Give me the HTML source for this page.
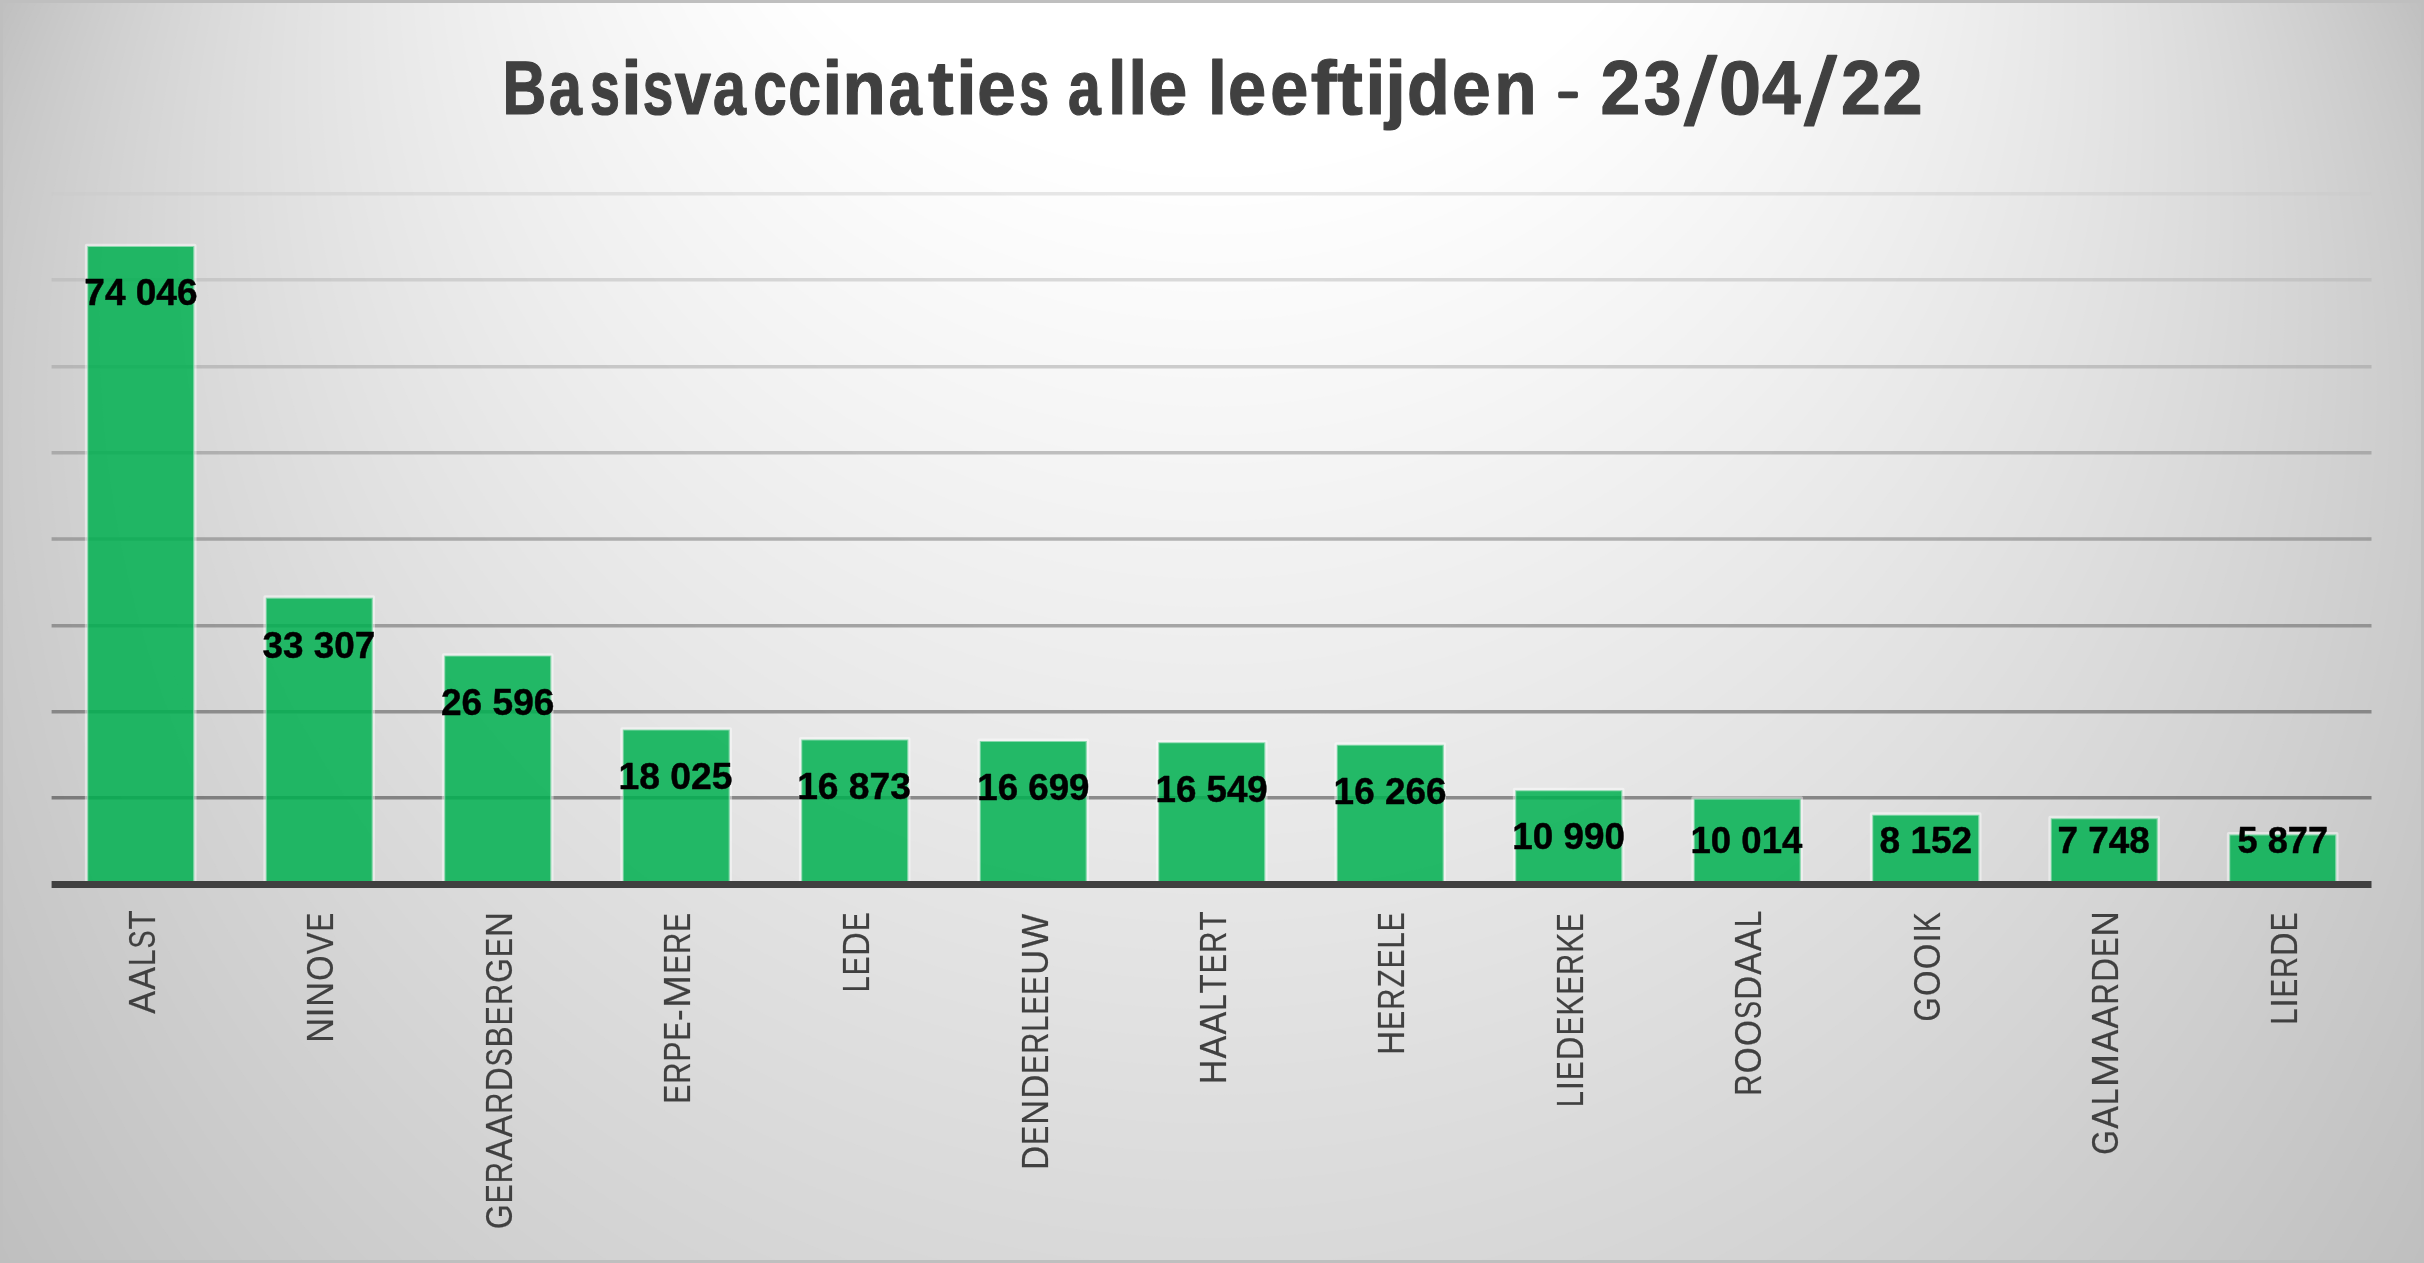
<!DOCTYPE html>
<html><head><meta charset="utf-8"><title>Basisvaccinaties alle leeftijden - 23/04/22</title>
<style>
html,body{margin:0;padding:0;background:#bfbfbf;}
body{width:2424px;height:1263px;overflow:hidden;}
svg{display:block;}
text{font-family:"Liberation Sans",sans-serif;}
#dl,#cl,#title{filter:opacity(0.999);will-change:opacity;}
.t{font-weight:bold;fill:#404040;font-size:75.4px;stroke:#404040;stroke-width:1.2px;stroke-linejoin:round;}
.d{font-weight:bold;fill:#000;font-size:36.2px;stroke:#000;stroke-width:0.45px;stroke-linejoin:round;}
.c{fill:#404040;font-size:37px;stroke:#404040;stroke-width:0.2px;}
</style></head><body>
<svg width="2424" height="1263" viewBox="0 0 2424 1263">
<rect x="0" y="0" width="2424" height="1263" fill="#bfbfbf"/>
<g id="bg">
<circle cx="1212.0" cy="623.68" r="1360.14" fill="rgb(192,192,192)"/>
<circle cx="1212.0" cy="608.03" r="1347.11" fill="rgb(193,193,193)"/>
<circle cx="1212.0" cy="592.38" r="1334.09" fill="rgb(194,194,194)"/>
<circle cx="1212.0" cy="576.73" r="1321.06" fill="rgb(195,195,195)"/>
<circle cx="1212.0" cy="561.08" r="1308.03" fill="rgb(196,196,196)"/>
<circle cx="1212.0" cy="545.43" r="1295.01" fill="rgb(197,197,197)"/>
<circle cx="1212.0" cy="529.78" r="1281.98" fill="rgb(198,198,198)"/>
<circle cx="1212.0" cy="514.13" r="1268.96" fill="rgb(199,199,199)"/>
<circle cx="1212.0" cy="498.48" r="1255.93" fill="rgb(200,200,200)"/>
<circle cx="1212.0" cy="482.83" r="1242.91" fill="rgb(201,201,201)"/>
<circle cx="1212.0" cy="467.18" r="1229.88" fill="rgb(202,202,202)"/>
<circle cx="1212.0" cy="451.53" r="1216.85" fill="rgb(203,203,203)"/>
<circle cx="1212.0" cy="435.88" r="1203.83" fill="rgb(204,204,204)"/>
<circle cx="1212.0" cy="420.23" r="1190.80" fill="rgb(205,205,205)"/>
<circle cx="1212.0" cy="404.58" r="1177.78" fill="rgb(206,206,206)"/>
<circle cx="1212.0" cy="388.93" r="1164.75" fill="rgb(207,207,207)"/>
<circle cx="1212.0" cy="373.29" r="1151.72" fill="rgb(208,208,208)"/>
<circle cx="1212.0" cy="357.64" r="1138.70" fill="rgb(209,209,209)"/>
<circle cx="1212.0" cy="341.99" r="1125.67" fill="rgb(210,210,210)"/>
<circle cx="1212.0" cy="326.34" r="1112.65" fill="rgb(211,211,211)"/>
<circle cx="1212.0" cy="310.69" r="1099.62" fill="rgb(212,212,212)"/>
<circle cx="1212.0" cy="295.04" r="1086.59" fill="rgb(213,213,213)"/>
<circle cx="1212.0" cy="279.39" r="1073.57" fill="rgb(214,214,214)"/>
<circle cx="1212.0" cy="263.74" r="1060.54" fill="rgb(215,215,215)"/>
<circle cx="1212.0" cy="248.09" r="1047.52" fill="rgb(216,216,216)"/>
<circle cx="1212.0" cy="232.44" r="1034.49" fill="rgb(217,217,217)"/>
<circle cx="1212.0" cy="216.79" r="1021.47" fill="rgb(218,218,218)"/>
<circle cx="1212.0" cy="201.14" r="1008.44" fill="rgb(219,219,219)"/>
<circle cx="1212.0" cy="185.49" r="995.41" fill="rgb(220,220,220)"/>
<circle cx="1212.0" cy="169.84" r="982.39" fill="rgb(221,221,221)"/>
<circle cx="1212.0" cy="154.19" r="969.36" fill="rgb(222,222,222)"/>
<circle cx="1212.0" cy="138.55" r="956.34" fill="rgb(223,223,223)"/>
<circle cx="1212.0" cy="122.90" r="943.31" fill="rgb(224,224,224)"/>
<circle cx="1212.0" cy="107.25" r="930.28" fill="rgb(225,225,225)"/>
<circle cx="1212.0" cy="91.60" r="917.26" fill="rgb(226,226,226)"/>
<circle cx="1212.0" cy="75.95" r="904.23" fill="rgb(227,227,227)"/>
<circle cx="1212.0" cy="60.30" r="891.21" fill="rgb(228,228,228)"/>
<circle cx="1212.0" cy="44.65" r="878.18" fill="rgb(229,229,229)"/>
<circle cx="1212.0" cy="29.00" r="865.15" fill="rgb(230,230,230)"/>
<circle cx="1212.0" cy="13.35" r="852.13" fill="rgb(231,231,231)"/>
<circle cx="1212.0" cy="-2.30" r="839.10" fill="rgb(232,232,232)"/>
<circle cx="1212.0" cy="-17.95" r="826.08" fill="rgb(233,233,233)"/>
<circle cx="1212.0" cy="-33.60" r="813.05" fill="rgb(234,234,234)"/>
<circle cx="1212.0" cy="-49.25" r="800.02" fill="rgb(235,235,235)"/>
<circle cx="1212.0" cy="-64.90" r="787.00" fill="rgb(236,236,236)"/>
<circle cx="1212.0" cy="-80.55" r="773.97" fill="rgb(237,237,237)"/>
<circle cx="1212.0" cy="-96.20" r="760.95" fill="rgb(238,238,238)"/>
<circle cx="1212.0" cy="-111.84" r="747.92" fill="rgb(239,239,239)"/>
<circle cx="1212.0" cy="-127.49" r="734.90" fill="rgb(240,240,240)"/>
<circle cx="1212.0" cy="-143.14" r="721.87" fill="rgb(241,241,241)"/>
<circle cx="1212.0" cy="-158.79" r="708.84" fill="rgb(242,242,242)"/>
<circle cx="1212.0" cy="-174.44" r="695.82" fill="rgb(243,243,243)"/>
<circle cx="1212.0" cy="-190.09" r="682.79" fill="rgb(244,244,244)"/>
<circle cx="1212.0" cy="-205.74" r="669.77" fill="rgb(245,245,245)"/>
<circle cx="1212.0" cy="-221.39" r="656.74" fill="rgb(246,246,246)"/>
<circle cx="1212.0" cy="-237.04" r="643.71" fill="rgb(247,247,247)"/>
<circle cx="1212.0" cy="-252.69" r="630.69" fill="rgb(248,248,248)"/>
<circle cx="1212.0" cy="-268.34" r="617.66" fill="rgb(249,249,249)"/>
<circle cx="1212.0" cy="-283.99" r="604.64" fill="rgb(250,250,250)"/>
<circle cx="1212.0" cy="-299.64" r="591.61" fill="rgb(251,251,251)"/>
<circle cx="1212.0" cy="-315.29" r="578.58" fill="rgb(252,252,252)"/>
<circle cx="1212.0" cy="-330.94" r="565.56" fill="rgb(253,253,253)"/>
<circle cx="1212.0" cy="-346.58" r="552.53" fill="rgb(254,254,254)"/>
<circle cx="1212.0" cy="-362.23" r="539.51" fill="rgb(255,255,255)"/>
</g>
<path d="M0 0H2424V1263H0Z M3 3V1260H2421V3Z" fill="#bfbfbf" fill-rule="evenodd"/>
<g id="grid" stroke-width="3.5" stroke-opacity="0.45">
<line x1="51.6" y1="797.80" x2="2371.5" y2="797.80" stroke="rgb(25,25,25)"/>
<line x1="51.6" y1="711.80" x2="2371.5" y2="711.80" stroke="rgb(50,50,50)"/>
<line x1="51.6" y1="625.80" x2="2371.5" y2="625.80" stroke="rgb(75,75,75)"/>
<line x1="51.6" y1="538.90" x2="2371.5" y2="538.90" stroke="rgb(100,100,100)"/>
<line x1="51.6" y1="452.80" x2="2371.5" y2="452.80" stroke="rgb(125,125,125)"/>
<line x1="51.6" y1="366.80" x2="2371.5" y2="366.80" stroke="rgb(150,150,150)"/>
<line x1="51.6" y1="279.80" x2="2371.5" y2="279.80" stroke="rgb(176,176,176)"/>
<line x1="51.6" y1="193.70" x2="2371.5" y2="193.70" stroke="rgb(201,201,201)"/>
</g>
<g id="bars" fill="#00b050" fill-opacity="0.85">
<rect x="87.25" y="246.08" width="107.10" height="638.42"/>
<rect x="265.75" y="597.66" width="107.10" height="286.84"/>
<rect x="444.25" y="655.58" width="107.10" height="228.92"/>
<rect x="622.75" y="729.54" width="107.10" height="154.96"/>
<rect x="801.25" y="739.49" width="107.10" height="145.01"/>
<rect x="979.75" y="740.99" width="107.10" height="143.51"/>
<rect x="1158.25" y="742.28" width="107.10" height="142.22"/>
<rect x="1336.75" y="744.72" width="107.10" height="139.78"/>
<rect x="1515.25" y="790.26" width="107.10" height="94.24"/>
<rect x="1693.75" y="798.68" width="107.10" height="85.82"/>
<rect x="1872.25" y="814.75" width="107.10" height="69.75"/>
<rect x="2050.75" y="818.23" width="107.10" height="66.27"/>
<rect x="2229.25" y="834.38" width="107.10" height="50.12"/>
</g>
<g id="barlines" fill="none" stroke="#fff" stroke-opacity="0.45" stroke-width="3.4" stroke-linejoin="round">
<rect x="86.55" y="245.38" width="108.30" height="639.12"/>
<rect x="265.05" y="596.96" width="108.30" height="287.54"/>
<rect x="443.55" y="654.88" width="108.30" height="229.62"/>
<rect x="622.05" y="728.84" width="108.30" height="155.66"/>
<rect x="800.55" y="738.79" width="108.30" height="145.71"/>
<rect x="979.05" y="740.29" width="108.30" height="144.21"/>
<rect x="1157.55" y="741.58" width="108.30" height="142.92"/>
<rect x="1336.05" y="744.02" width="108.30" height="140.48"/>
<rect x="1514.55" y="789.56" width="108.30" height="94.94"/>
<rect x="1693.05" y="797.98" width="108.30" height="86.52"/>
<rect x="1871.55" y="814.05" width="108.30" height="70.45"/>
<rect x="2050.05" y="817.53" width="108.30" height="66.97"/>
<rect x="2228.55" y="833.68" width="108.30" height="50.82"/>
</g>
<rect x="51.6" y="881" width="2319.9" height="7" fill="#404040"/>
<g id="dl" class="d" text-anchor="middle">
<text x="140.94" y="304.51" textLength="113.24" lengthAdjust="spacingAndGlyphs">74 046</text>
<text x="318.83" y="657.90" textLength="112.72" lengthAdjust="spacingAndGlyphs">33 307</text>
<text x="497.69" y="715.25" textLength="113.44" lengthAdjust="spacingAndGlyphs">26 596</text>
<text x="675.42" y="788.50" textLength="114.00" lengthAdjust="spacingAndGlyphs">18 025</text>
<text x="854.04" y="798.76" textLength="113.73" lengthAdjust="spacingAndGlyphs">16 873</text>
<text x="1033.41" y="800.00" textLength="112.26" lengthAdjust="spacingAndGlyphs">16 699</text>
<text x="1211.60" y="802.00" textLength="112.26" lengthAdjust="spacingAndGlyphs">16 549</text>
<text x="1390.08" y="804.40" textLength="112.88" lengthAdjust="spacingAndGlyphs">16 266</text>
<text x="1568.56" y="849.10" textLength="112.69" lengthAdjust="spacingAndGlyphs">10 990</text>
<text x="1746.41" y="852.90" textLength="111.74" lengthAdjust="spacingAndGlyphs">10 014</text>
<text x="1925.87" y="852.90" textLength="92.70" lengthAdjust="spacingAndGlyphs">8 152</text>
<text x="2103.71" y="852.90" textLength="92.36" lengthAdjust="spacingAndGlyphs">7 748</text>
<text x="2282.84" y="853.13" textLength="90.51" lengthAdjust="spacingAndGlyphs">5 877</text>
</g>
<g id="cl" class="c">
<g aria-label="AALST">
<text transform="translate(155.11,1013.83) rotate(-90)" textLength="22.78" lengthAdjust="spacingAndGlyphs">A</text>
<text transform="translate(155.11,989.85) rotate(-90)" textLength="22.78" lengthAdjust="spacingAndGlyphs">A</text>
<text transform="translate(155.11,966.03) rotate(-90)" textLength="16.55" lengthAdjust="spacingAndGlyphs">L</text>
<text transform="translate(155.11,948.57) rotate(-90)" textLength="18.09" lengthAdjust="spacingAndGlyphs">S</text>
<text transform="translate(155.11,929.50) rotate(-90)" textLength="19.19" lengthAdjust="spacingAndGlyphs">T</text>
</g>
<g aria-label="NINOVE">
<text transform="translate(333.26,1042.84) rotate(-90)" textLength="24.69" lengthAdjust="spacingAndGlyphs">N</text>
<text transform="translate(333.26,1017.25) rotate(-90)" textLength="9.64" lengthAdjust="spacingAndGlyphs">I</text>
<text transform="translate(333.26,1006.71) rotate(-90)" textLength="24.69" lengthAdjust="spacingAndGlyphs">N</text>
<text transform="translate(333.26,980.70) rotate(-90)" textLength="25.32" lengthAdjust="spacingAndGlyphs">O</text>
<text transform="translate(333.26,954.14) rotate(-90)" textLength="21.70" lengthAdjust="spacingAndGlyphs">V</text>
<text transform="translate(333.26,931.38) rotate(-90)" textLength="18.68" lengthAdjust="spacingAndGlyphs">E</text>
</g>
<g aria-label="GERAARDSBERGEN">
<text transform="translate(511.59,1229.05) rotate(-90)" textLength="24.55" lengthAdjust="spacingAndGlyphs">G</text>
<text transform="translate(511.59,1203.35) rotate(-90)" textLength="19.00" lengthAdjust="spacingAndGlyphs">E</text>
<text transform="translate(511.59,1183.30) rotate(-90)" textLength="21.13" lengthAdjust="spacingAndGlyphs">R</text>
<text transform="translate(511.59,1161.02) rotate(-90)" textLength="22.52" lengthAdjust="spacingAndGlyphs">A</text>
<text transform="translate(511.59,1137.32) rotate(-90)" textLength="22.52" lengthAdjust="spacingAndGlyphs">A</text>
<text transform="translate(511.59,1113.66) rotate(-90)" textLength="21.13" lengthAdjust="spacingAndGlyphs">R</text>
<text transform="translate(511.59,1091.34) rotate(-90)" textLength="23.94" lengthAdjust="spacingAndGlyphs">D</text>
<text transform="translate(511.59,1066.30) rotate(-90)" textLength="17.88" lengthAdjust="spacingAndGlyphs">S</text>
<text transform="translate(511.59,1047.39) rotate(-90)" textLength="21.17" lengthAdjust="spacingAndGlyphs">B</text>
<text transform="translate(511.59,1025.17) rotate(-90)" textLength="19.00" lengthAdjust="spacingAndGlyphs">E</text>
<text transform="translate(511.59,1005.11) rotate(-90)" textLength="21.13" lengthAdjust="spacingAndGlyphs">R</text>
<text transform="translate(511.59,982.78) rotate(-90)" textLength="24.55" lengthAdjust="spacingAndGlyphs">G</text>
<text transform="translate(511.59,957.09) rotate(-90)" textLength="19.00" lengthAdjust="spacingAndGlyphs">E</text>
<text transform="translate(511.59,936.93) rotate(-90)" textLength="25.12" lengthAdjust="spacingAndGlyphs">N</text>
</g>
<g aria-label="ERPE-MERE">
<text transform="translate(690.44,1103.38) rotate(-90)" textLength="18.84" lengthAdjust="spacingAndGlyphs">E</text>
<text transform="translate(690.44,1083.50) rotate(-90)" textLength="20.95" lengthAdjust="spacingAndGlyphs">R</text>
<text transform="translate(690.44,1061.47) rotate(-90)" textLength="19.93" lengthAdjust="spacingAndGlyphs">P</text>
<text transform="translate(690.44,1040.52) rotate(-90)" textLength="18.84" lengthAdjust="spacingAndGlyphs">E</text>
<text transform="translate(690.44,1020.88) rotate(-90)" textLength="11.81" lengthAdjust="spacingAndGlyphs">-</text>
<text transform="translate(690.44,1007.89) rotate(-90)" textLength="32.98" lengthAdjust="spacingAndGlyphs">M</text>
<text transform="translate(690.44,973.55) rotate(-90)" textLength="18.84" lengthAdjust="spacingAndGlyphs">E</text>
<text transform="translate(690.44,953.66) rotate(-90)" textLength="20.95" lengthAdjust="spacingAndGlyphs">R</text>
<text transform="translate(690.44,931.67) rotate(-90)" textLength="18.84" lengthAdjust="spacingAndGlyphs">E</text>
</g>
<g aria-label="LEDE">
<text transform="translate(869.03,992.28) rotate(-90)" textLength="16.01" lengthAdjust="spacingAndGlyphs">L</text>
<text transform="translate(869.03,975.36) rotate(-90)" textLength="18.60" lengthAdjust="spacingAndGlyphs">E</text>
<text transform="translate(869.03,955.65) rotate(-90)" textLength="23.43" lengthAdjust="spacingAndGlyphs">D</text>
<text transform="translate(869.03,931.11) rotate(-90)" textLength="18.60" lengthAdjust="spacingAndGlyphs">E</text>
</g>
<g aria-label="DENDERLEEUW">
<text transform="translate(1047.71,1169.68) rotate(-90)" textLength="23.77" lengthAdjust="spacingAndGlyphs">D</text>
<text transform="translate(1047.71,1144.78) rotate(-90)" textLength="18.87" lengthAdjust="spacingAndGlyphs">E</text>
<text transform="translate(1047.71,1124.76) rotate(-90)" textLength="24.94" lengthAdjust="spacingAndGlyphs">N</text>
<text transform="translate(1047.71,1098.53) rotate(-90)" textLength="23.77" lengthAdjust="spacingAndGlyphs">D</text>
<text transform="translate(1047.71,1073.63) rotate(-90)" textLength="18.87" lengthAdjust="spacingAndGlyphs">E</text>
<text transform="translate(1047.71,1053.72) rotate(-90)" textLength="20.98" lengthAdjust="spacingAndGlyphs">R</text>
<text transform="translate(1047.71,1031.76) rotate(-90)" textLength="16.25" lengthAdjust="spacingAndGlyphs">L</text>
<text transform="translate(1047.71,1014.59) rotate(-90)" textLength="18.87" lengthAdjust="spacingAndGlyphs">E</text>
<text transform="translate(1047.71,994.72) rotate(-90)" textLength="18.87" lengthAdjust="spacingAndGlyphs">E</text>
<text transform="translate(1047.71,974.71) rotate(-90)" textLength="24.79" lengthAdjust="spacingAndGlyphs">U</text>
<text transform="translate(1047.71,948.36) rotate(-90)" textLength="34.38" lengthAdjust="spacingAndGlyphs">W</text>
</g>
<g aria-label="HAALTERT">
<text transform="translate(1226.19,1084.20) rotate(-90)" textLength="24.46" lengthAdjust="spacingAndGlyphs">H</text>
<text transform="translate(1226.19,1058.49) rotate(-90)" textLength="22.72" lengthAdjust="spacingAndGlyphs">A</text>
<text transform="translate(1226.19,1034.58) rotate(-90)" textLength="22.72" lengthAdjust="spacingAndGlyphs">A</text>
<text transform="translate(1226.19,1010.83) rotate(-90)" textLength="16.51" lengthAdjust="spacingAndGlyphs">L</text>
<text transform="translate(1226.19,993.38) rotate(-90)" textLength="19.13" lengthAdjust="spacingAndGlyphs">T</text>
<text transform="translate(1226.19,973.24) rotate(-90)" textLength="19.17" lengthAdjust="spacingAndGlyphs">E</text>
<text transform="translate(1226.19,953.00) rotate(-90)" textLength="21.32" lengthAdjust="spacingAndGlyphs">R</text>
<text transform="translate(1226.19,930.62) rotate(-90)" textLength="19.13" lengthAdjust="spacingAndGlyphs">T</text>
</g>
<g aria-label="HERZELE">
<text transform="translate(1404.21,1054.98) rotate(-90)" textLength="24.19" lengthAdjust="spacingAndGlyphs">H</text>
<text transform="translate(1404.21,1029.65) rotate(-90)" textLength="18.96" lengthAdjust="spacingAndGlyphs">E</text>
<text transform="translate(1404.21,1009.64) rotate(-90)" textLength="21.08" lengthAdjust="spacingAndGlyphs">R</text>
<text transform="translate(1404.21,987.52) rotate(-90)" textLength="18.18" lengthAdjust="spacingAndGlyphs">Z</text>
<text transform="translate(1404.21,968.36) rotate(-90)" textLength="18.96" lengthAdjust="spacingAndGlyphs">E</text>
<text transform="translate(1404.21,948.48) rotate(-90)" textLength="16.32" lengthAdjust="spacingAndGlyphs">L</text>
<text transform="translate(1404.21,931.22) rotate(-90)" textLength="18.96" lengthAdjust="spacingAndGlyphs">E</text>
</g>
<g aria-label="LIEDEKERKE">
<text transform="translate(1583.16,1107.27) rotate(-90)" textLength="16.15" lengthAdjust="spacingAndGlyphs">L</text>
<text transform="translate(1583.16,1090.44) rotate(-90)" textLength="9.68" lengthAdjust="spacingAndGlyphs">I</text>
<text transform="translate(1583.16,1080.01) rotate(-90)" textLength="18.76" lengthAdjust="spacingAndGlyphs">E</text>
<text transform="translate(1583.16,1060.13) rotate(-90)" textLength="23.64" lengthAdjust="spacingAndGlyphs">D</text>
<text transform="translate(1583.16,1035.37) rotate(-90)" textLength="18.76" lengthAdjust="spacingAndGlyphs">E</text>
<text transform="translate(1583.16,1015.59) rotate(-90)" textLength="19.96" lengthAdjust="spacingAndGlyphs">K</text>
<text transform="translate(1583.16,994.60) rotate(-90)" textLength="18.76" lengthAdjust="spacingAndGlyphs">E</text>
<text transform="translate(1583.16,974.80) rotate(-90)" textLength="20.86" lengthAdjust="spacingAndGlyphs">R</text>
<text transform="translate(1583.16,952.86) rotate(-90)" textLength="19.96" lengthAdjust="spacingAndGlyphs">K</text>
<text transform="translate(1583.16,931.88) rotate(-90)" textLength="18.76" lengthAdjust="spacingAndGlyphs">E</text>
</g>
<g aria-label="ROOSDAAL">
<text transform="translate(1761.48,1095.81) rotate(-90)" textLength="21.22" lengthAdjust="spacingAndGlyphs">R</text>
<text transform="translate(1761.48,1073.35) rotate(-90)" textLength="25.88" lengthAdjust="spacingAndGlyphs">O</text>
<text transform="translate(1761.48,1046.11) rotate(-90)" textLength="25.88" lengthAdjust="spacingAndGlyphs">O</text>
<text transform="translate(1761.48,1019.08) rotate(-90)" textLength="17.96" lengthAdjust="spacingAndGlyphs">S</text>
<text transform="translate(1761.48,1000.02) rotate(-90)" textLength="24.05" lengthAdjust="spacingAndGlyphs">D</text>
<text transform="translate(1761.48,974.74) rotate(-90)" textLength="22.61" lengthAdjust="spacingAndGlyphs">A</text>
<text transform="translate(1761.48,950.94) rotate(-90)" textLength="22.61" lengthAdjust="spacingAndGlyphs">A</text>
<text transform="translate(1761.48,927.30) rotate(-90)" textLength="16.43" lengthAdjust="spacingAndGlyphs">L</text>
</g>
<g aria-label="GOOIK">
<text transform="translate(1939.78,1021.62) rotate(-90)" textLength="24.32" lengthAdjust="spacingAndGlyphs">G</text>
<text transform="translate(1939.78,995.99) rotate(-90)" textLength="25.52" lengthAdjust="spacingAndGlyphs">O</text>
<text transform="translate(1939.78,969.13) rotate(-90)" textLength="25.52" lengthAdjust="spacingAndGlyphs">O</text>
<text transform="translate(1939.78,942.68) rotate(-90)" textLength="9.71" lengthAdjust="spacingAndGlyphs">I</text>
<text transform="translate(1939.78,932.19) rotate(-90)" textLength="20.02" lengthAdjust="spacingAndGlyphs">K</text>
</g>
<g aria-label="GALMAARDEN">
<text transform="translate(2118.32,1154.78) rotate(-90)" textLength="24.74" lengthAdjust="spacingAndGlyphs">G</text>
<text transform="translate(2118.32,1128.79) rotate(-90)" textLength="22.69" lengthAdjust="spacingAndGlyphs">A</text>
<text transform="translate(2118.32,1105.07) rotate(-90)" textLength="16.48" lengthAdjust="spacingAndGlyphs">L</text>
<text transform="translate(2118.32,1087.27) rotate(-90)" textLength="33.52" lengthAdjust="spacingAndGlyphs">M</text>
<text transform="translate(2118.32,1052.27) rotate(-90)" textLength="22.69" lengthAdjust="spacingAndGlyphs">A</text>
<text transform="translate(2118.32,1028.39) rotate(-90)" textLength="22.69" lengthAdjust="spacingAndGlyphs">A</text>
<text transform="translate(2118.32,1004.54) rotate(-90)" textLength="21.29" lengthAdjust="spacingAndGlyphs">R</text>
<text transform="translate(2118.32,982.06) rotate(-90)" textLength="24.12" lengthAdjust="spacingAndGlyphs">D</text>
<text transform="translate(2118.32,956.80) rotate(-90)" textLength="19.15" lengthAdjust="spacingAndGlyphs">E</text>
<text transform="translate(2118.32,936.48) rotate(-90)" textLength="25.31" lengthAdjust="spacingAndGlyphs">N</text>
</g>
<g aria-label="LIERDE">
<text transform="translate(2296.58,1024.52) rotate(-90)" textLength="16.03" lengthAdjust="spacingAndGlyphs">L</text>
<text transform="translate(2296.58,1007.81) rotate(-90)" textLength="9.61" lengthAdjust="spacingAndGlyphs">I</text>
<text transform="translate(2296.58,997.45) rotate(-90)" textLength="18.62" lengthAdjust="spacingAndGlyphs">E</text>
<text transform="translate(2296.58,977.79) rotate(-90)" textLength="20.71" lengthAdjust="spacingAndGlyphs">R</text>
<text transform="translate(2296.58,955.92) rotate(-90)" textLength="23.47" lengthAdjust="spacingAndGlyphs">D</text>
<text transform="translate(2296.58,931.35) rotate(-90)" textLength="18.62" lengthAdjust="spacingAndGlyphs">E</text>
</g>
</g>
<g id="title" class="t" aria-label="Basisvaccinaties alle leeftijden - 23/04/22">
<text x="502.45" y="114.4" textLength="43.70" lengthAdjust="spacingAndGlyphs">B</text>
<text x="548.96" y="114.4" textLength="32.96" lengthAdjust="spacingAndGlyphs">a</text>
<text x="589.91" y="114.4" textLength="29.89" lengthAdjust="spacingAndGlyphs">s</text>
<text x="621.26" y="114.4" textLength="20.45" lengthAdjust="spacingAndGlyphs">i</text>
<text x="642.77" y="114.4" textLength="30.59" lengthAdjust="spacingAndGlyphs">s</text>
<text x="674.75" y="114.4" textLength="36.24" lengthAdjust="spacingAndGlyphs">v</text>
<text x="713.06" y="114.4" textLength="32.96" lengthAdjust="spacingAndGlyphs">a</text>
<text x="753.25" y="114.4" textLength="33.52" lengthAdjust="spacingAndGlyphs">c</text>
<text x="788.20" y="114.4" textLength="32.72" lengthAdjust="spacingAndGlyphs">c</text>
<text x="822.46" y="114.4" textLength="19.64" lengthAdjust="spacingAndGlyphs">i</text>
<text x="842.53" y="114.4" textLength="43.26" lengthAdjust="spacingAndGlyphs">n</text>
<text x="888.85" y="114.4" textLength="33.17" lengthAdjust="spacingAndGlyphs">a</text>
<text x="927.96" y="114.4" textLength="25.68" lengthAdjust="spacingAndGlyphs">t</text>
<text x="956.16" y="114.4" textLength="20.45" lengthAdjust="spacingAndGlyphs">i</text>
<text x="977.20" y="114.4" textLength="38.47" lengthAdjust="spacingAndGlyphs">e</text>
<text x="1019.09" y="114.4" textLength="30.24" lengthAdjust="spacingAndGlyphs">s</text>
<text x="1067.97" y="114.4" textLength="32.86" lengthAdjust="spacingAndGlyphs">a</text>
<text x="1108.27" y="114.4" textLength="18.02" lengthAdjust="spacingAndGlyphs">l</text>
<text x="1128.47" y="114.4" textLength="18.43" lengthAdjust="spacingAndGlyphs">l</text>
<text x="1148.27" y="114.4" textLength="38.93" lengthAdjust="spacingAndGlyphs">e</text>
<text x="1207.97" y="114.4" textLength="18.83" lengthAdjust="spacingAndGlyphs">l</text>
<text x="1228.12" y="114.4" textLength="38.12" lengthAdjust="spacingAndGlyphs">e</text>
<text x="1270.13" y="114.4" textLength="38.01" lengthAdjust="spacingAndGlyphs">e</text>
<text x="1310.67" y="114.4" textLength="25.88" lengthAdjust="spacingAndGlyphs">f</text>
<text x="1337.26" y="114.4" textLength="25.57" lengthAdjust="spacingAndGlyphs">t</text>
<text x="1365.41" y="114.4" textLength="19.84" lengthAdjust="spacingAndGlyphs">i</text>
<text x="1385.36" y="114.4" textLength="20.67" lengthAdjust="spacingAndGlyphs">j</text>
<text x="1406.93" y="114.4" textLength="42.79" lengthAdjust="spacingAndGlyphs">d</text>
<text x="1451.88" y="114.4" textLength="38.70" lengthAdjust="spacingAndGlyphs">e</text>
<text x="1494.33" y="114.4" textLength="42.37" lengthAdjust="spacingAndGlyphs">n</text>
<rect x="1558.80" y="92.1" width="18.50" height="5.5" rx="1"/>
<text x="1600.52" y="114.4" textLength="39.74" lengthAdjust="spacingAndGlyphs">2</text>
<text x="1643.75" y="114.4" textLength="37.59" lengthAdjust="spacingAndGlyphs">3</text>
<path d="M1707.60 55.4H1717.10L1693.50 126.0H1684.00Z"/>
<text x="1719.11" y="114.4" textLength="42.10" lengthAdjust="spacingAndGlyphs">0</text>
<text x="1762.05" y="114.4" textLength="38.62" lengthAdjust="spacingAndGlyphs">4</text>
<path d="M1827.40 55.4H1836.90L1813.60 126.0H1804.10Z"/>
<text x="1841.12" y="114.4" textLength="39.74" lengthAdjust="spacingAndGlyphs">2</text>
<text x="1882.60" y="114.4" textLength="40.08" lengthAdjust="spacingAndGlyphs">2</text>
</g>
</svg>
</body></html>
